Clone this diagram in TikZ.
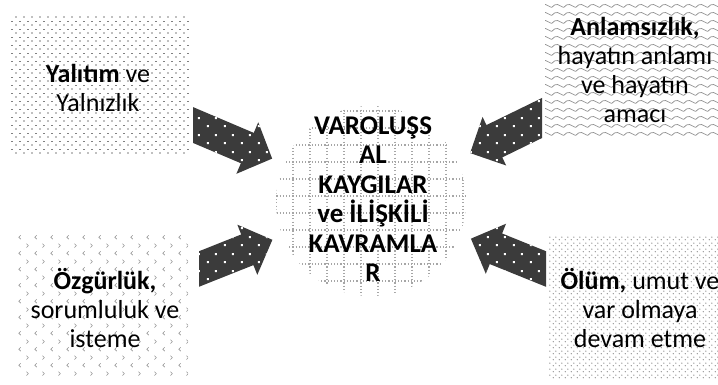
\documentclass[tikz,border=0pt]{standalone}
\usepackage{fontspec}
\setmainfont{Carlito}
\usetikzlibrary{patterns.meta}

\tikzdeclarepattern{name=tldots, type=uncolored,
  bottom left={(-1pt,-1pt)}, top right={(7pt,7pt)}, tile size={(8pt,8pt)},
  code={\fill (0pt,0pt) circle (0.8pt); \fill (3.2pt,3.55pt) rectangle (4.8pt,4.45pt);}}
\tikzdeclarepattern{name=zigzag, type=uncolored,
  bottom left={(0pt,0pt)}, top right={(12pt,8pt)}, tile size={(12pt,8pt)},
  code={\draw[line width=0.8pt] (-1pt,1.5pt) -- (0pt,2pt) .. controls (3pt,5pt) and (3pt,5pt) .. (6pt,5pt) .. controls (9pt,5pt) and (9pt,2pt) .. (12pt,2pt) -- (13pt,2pt);}}
\tikzdeclarepattern{name=chevrons, type=uncolored,
  bottom left={(0pt,0pt)}, top right={(16pt,16pt)}, tile size={(16pt,16pt)},
  code={\draw[line width=0.6pt] (5pt,2pt) -- (3pt,4pt) -- (5pt,6pt);
        \draw[line width=0.6pt] (11pt,10pt) -- (13pt,12pt) -- (11pt,14pt);}}
\tikzdeclarepattern{name=densedots, type=uncolored,
  bottom left={(0pt,0pt)}, top right={(6pt,6pt)}, tile size={(6pt,6pt)},
  code={\fill (1.5pt,1.5pt) circle (0.75pt); \fill (4.5pt,4.5pt) circle (0.75pt);}}
\tikzdeclarepattern{name=arrowdots, type=uncolored,
  bottom left={(0pt,0pt)}, top right={(17pt,17pt)}, tile size={(17pt,17pt)},
  code={\fill (3pt,3pt) rectangle (5pt,5pt); \fill (11.5pt,11.5pt) rectangle (13.5pt,13.5pt);}}

\definecolor{arrowgray}{HTML}{3B3B3B}
\tikzset{
  boxtext/.style={align=center, font=\fontsize{26}{29}\selectfont, inner sep=0pt},
  centertext/.style={align=center, font=\fontsize{27}{29.5}\selectfont\bfseries, inner sep=0pt},
  arrowbody/.style={fill=arrowgray},
  arrowdots/.style={pattern={arrowdots}, pattern color=white},
  gridline/.style={draw=gray!70, line width=1.1pt, dash pattern=on 1.1pt off 2.1pt},
}

\newcommand\blockarrow[5]{% origin, angle, shaft half width, head base, head half width
  \path[arrowbody, shift={#1}, rotate=#2] (-30,-#3) -- (#4,-#3) -- (#4,-#5) -- (#4+27,0) -- (#4,#5) -- (#4,#3) -- (-30,#3) -- cycle;
  \path[arrowdots, shift={#1}, rotate=#2] (-30,-#3) -- (#4,-#3) -- (#4,-#5) -- (#4+27,0) -- (#4,#5) -- (#4,#3) -- (-30,#3) -- cycle;
}

\begin{document}
\begin{tikzpicture}[x=1pt, y=-1pt]
\useasboundingbox (0,0) rectangle (718,385);

% boxes
\path[fill=white, pattern={tldots}, pattern color=gray] (10,15) rectangle (190,155);
\path[fill=white, pattern={zigzag}, pattern color=gray!85] (545,0) rectangle (718,140);
\path[fill=white, pattern={chevrons}, pattern color=gray!85] (16,235) rectangle (188,376);
\path[fill=white, pattern={densedots}, pattern color=gray] (548,235) rectangle (718,378);

% arrows
\begin{scope}
  \clip (193,0) rectangle (360,385);
  \blockarrow{(193,125)}{-23}{16.5}{59}{28}
\end{scope}
\begin{scope}
  \clip (0,0) rectangle (542,385);
  \blockarrow{(542,118)}{206}{18}{53}{27}
\end{scope}
\begin{scope}
  \clip (199,0) rectangle (360,385);
  \blockarrow{(199,269)}{21.7}{16.5}{52}{27}
\end{scope}
\begin{scope}
  \clip (0,0) rectangle (546,385);
  \blockarrow{(546,269)}{158}{16.5}{54}{27}
\end{scope}

% central circle with dotted grid
\begin{scope}
  \clip (371,201) circle (95pt);
  \foreach \x in {276,293,...,466} \draw[gridline] (\x,100) -- (\x,300);
  \foreach \y in {111,128,...,300} \draw[gridline] (270,\y) -- (470,\y);
\end{scope}
\node[circle, minimum size=190pt, inner sep=0pt] (hub) at (371,201) {};

% texts
\node[boxtext] (tl) at (98,88) {\textbf{Yalıtım} ve\\Yalnızlık};
\node[boxtext] (tr) at (635,70) {\textbf{Anlamsızlık,}\\hayatın anlamı\\ve hayatın\\amacı};
\node[boxtext] (bl) at (105,308) {\textbf{Özgürlük,}\\sorumluluk ve\\isteme};
\node[boxtext] (br) at (640,308) {\textbf{Ölüm,} umut ve\\var olmaya\\devam etme};
\node[centertext] (c) at (373,199) {VAROLUŞS\\AL\\KAYGILAR\\ve İLİŞKİLİ\\KAVRAMLA\\R};
\end{tikzpicture}
\end{document}
